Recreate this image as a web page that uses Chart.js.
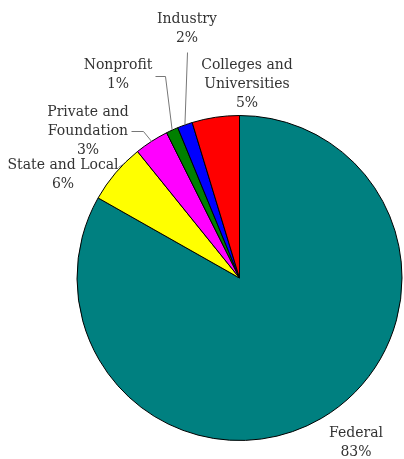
<!DOCTYPE html>
<html>
<head>
<meta charset="utf-8">
<script src="https://cdn.jsdelivr.net/npm/chart.js@4/dist/chart.umd.min.js"></script>
<style>
  html, body { margin: 0; padding: 0; background: #fff; }
  #wrap { width: 404px; height: 459px; position: relative; }
</style>
</head>
<body>
<div id="wrap"><canvas id="myChart"></canvas></div>
<script>
var sources = [
  "Federal",
  "State and Local",
  "Private and Foundation",
  "Nonprofit",
  "Industry",
  "Colleges and Universities",
];
var shares = [83.2, 6.0, 3.4, 1.2, 1.5, 4.7];
var shareLabels = ["83%", "6%", "3%", "1%", "2%", "5%"];

// label layout: text lines, centre x, first line y, leader polyline start, where on the slice it ends
var labelLayout = [
  { lines: ["Federal"], x: 356, y: 433 },
  { lines: ["State and Local"], x: 63, y: 165, leader: [[118, 167]], t: 0.7 },
  { lines: ["Private and", "Foundation"], x: 88, y: 112, leader: [[131, 131], [143, 131]], t: 0.5 },
  { lines: ["Nonprofit"], x: 118, y: 65, leader: [[155, 76], [165, 76]], t: 0.5 },
  { lines: ["Industry"], x: 187, y: 19, leader: [[187, 52]], t: 0.5 },
  { lines: ["Colleges and", "Universities"], x: 247, y: 65 },
];

var labelPlugin = {
  id: "pieLabels",
  afterDraw: function (chart) {
    var ctx = chart.ctx;
    var arcs = chart.getDatasetMeta(0).data;
    ctx.save();
    ctx.font = "14px 'DejaVu Serif'";
    ctx.fillStyle = "#333";
    ctx.textAlign = "center";
    ctx.textBaseline = "middle";
    var lh = 19;
    for (var i = 0; i < arcs.length; i++) {
      var lay = labelLayout[i];
      var lines = lay.lines.concat([shareLabels[i]]);
      for (var j = 0; j < lines.length; j++) {
        ctx.fillText(lines[j], lay.x, lay.y + j * lh);
      }
      if (lay.leader) {
        var p = arcs[i].getProps(["x", "y", "startAngle", "endAngle", "outerRadius"], true);
        var a = p.startAngle + (p.endAngle - p.startAngle) * lay.t;
        var ex = p.x + Math.cos(a) * p.outerRadius;
        var ey = p.y + Math.sin(a) * p.outerRadius;
        ctx.beginPath();
        ctx.strokeStyle = "#777";
        ctx.lineWidth = 1;
        ctx.moveTo(lay.leader[0][0] + 0.5, lay.leader[0][1] + 0.5);
        for (var k = 1; k < lay.leader.length; k++) {
          ctx.lineTo(lay.leader[k][0] + 0.5, lay.leader[k][1] + 0.5);
        }
        ctx.lineTo(ex, ey);
        ctx.stroke();
      }
    }
    ctx.restore();
  },
};

var canvas = document.getElementById("myChart");
var ctx = canvas.getContext("2d");
var myChart = new Chart(ctx, {
  type: "pie",
  data: {
    labels: sources,
    datasets: [
      {
        data: shares,
        backgroundColor: ["#008080", "#ffff00", "#ff00ff", "#008000", "#0000ff", "#ff0000"],
        borderColor: "#000",
        borderWidth: 1,
      },
    ],
  },
  options: {
    responsive: true,
    maintainAspectRatio: false,
    animation: false,
    layout: { padding: { left: 76, right: 1, top: 115, bottom: 18 } },
    plugins: {
      legend: { display: false },
      tooltip: { enabled: false },
    },
  },
  plugins: [labelPlugin],
});
</script>
</body>
</html>
